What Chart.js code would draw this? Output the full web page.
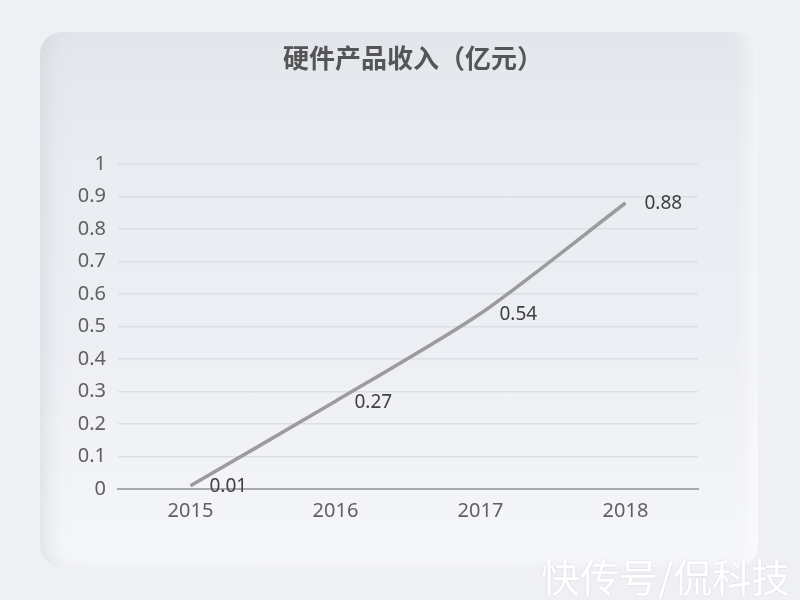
<!DOCTYPE html>
<html>
<head>
<meta charset="utf-8">
<script src="https://cdn.jsdelivr.net/npm/chart.js@4"></script>
<style>
html,body{margin:0;padding:0;background:#eef0f4;width:800px;height:600px;overflow:hidden;font-family:"Noto Sans CJK SC","Noto Sans",sans-serif;}
#card{position:absolute;left:40px;top:32px;width:718px;height:535px;border-radius:22px;
background:linear-gradient(to bottom,#e3e6eb 0%,#e9ecf1 25%,#edeff4 60%,#f6f7fa 100%);
box-shadow:inset 14px 0 22px -10px rgba(200,205,214,0.6), inset -14px 0 22px -10px rgba(255,255,255,0.8);}
#wrap{position:absolute;left:0;top:0;width:800px;height:600px;}
#wm{position:absolute;left:541px;top:547px;font-size:39px;color:#fff;text-shadow:0 0 2px rgba(0,0,0,0.12);white-space:nowrap;}
</style>
</head>
<body>
<div id="card"></div>
<div id="wrap"><canvas id="c" width="800" height="600"></canvas></div>
<div id="wm">快传号/侃科技</div>
<script>
const years = ['2015','2016','2017','2018'];
const revenue = [0.01, 0.27, 0.54, 0.88];
const yTickLabels = ['0','0.1','0.2','0.3','0.4','0.5','0.6','0.7','0.8','0.9','1'];
const titleText = '硬件产品收入（亿元）';

const FONT = '"Noto Sans CJK SC", "Noto Sans", sans-serif';
const NUMFONT = '"Noto Sans", "Noto Sans CJK SC", sans-serif';

const labelPlugin = {
  id: 'pointLabels',
  afterDatasetsDraw(chart) {
    const ctx = chart.ctx;
    const meta = chart.getDatasetMeta(0);
    ctx.save();
    ctx.font = '19px ' + NUMFONT;
    ctx.fillStyle = '#404040';
    ctx.textAlign = 'left';
    ctx.textBaseline = 'middle';
    meta.data.forEach((pt, i) => {
      ctx.fillText(String(revenue[i]), pt.x + 19, pt.y + 1);
    });
    ctx.restore();
  }
};

new Chart(document.getElementById('c'), {
  type: 'line',
  data: {
    labels: years,
    datasets: [{
      data: revenue,
      borderColor: '#9c9c9c',
      borderWidth: 3.5,
      pointRadius: 0,
      tension: 0.25,
      fill: false,
      yAxisID: 'y'
    }]
  },
  options: {
    responsive: false,
    animation: false,
    devicePixelRatio: 1,
    layout: { padding: { top: 0, right: 0, bottom: 0, left: 26 } },
    plugins: {
      legend: { display: false },
      tooltip: { enabled: false },
      title: {
        display: true,
        text: titleText,
        color: '#555555',
        font: { size: 26, weight: 'bold', family: FONT, lineHeight: 1.2 },
        padding: { top: 42.4, bottom: 90.4 }
      }
    },
    scales: {
      x: {
        offset: true,
        grid: { display: false, drawTicks: false },
        border: { display: true, color: '#a8aab0', width: 2 },
        ticks: { color: '#606060', padding: 10, font: { size: 20, family: NUMFONT } },
        afterFit(s) { s.height = 111; }
      },
      y: {
        min: 0, max: 1,
        grid: {
          drawTicks: false,
          color: (c) => c.tick && c.tick.value === 0 ? 'rgba(0,0,0,0)' : '#dcdfe5',
          lineWidth: 1.5
        },
        border: { display: false },
        ticks: {
          stepSize: 0.1, color: '#606060', padding: 12, font: { size: 20, family: NUMFONT },
          callback: (v, i) => yTickLabels[i]
        },
        afterFit(s) { s.width = 92; }
      },
      yRight: {
        position: 'right',
        min: 0, max: 1,
        display: true,
        grid: { display: false, drawTicks: false },
        border: { display: false },
        ticks: { display: false },
        afterFit(s) { s.width = 102; }
      }
    }
  },
  plugins: [labelPlugin]
});
</script>
</body>
</html>
